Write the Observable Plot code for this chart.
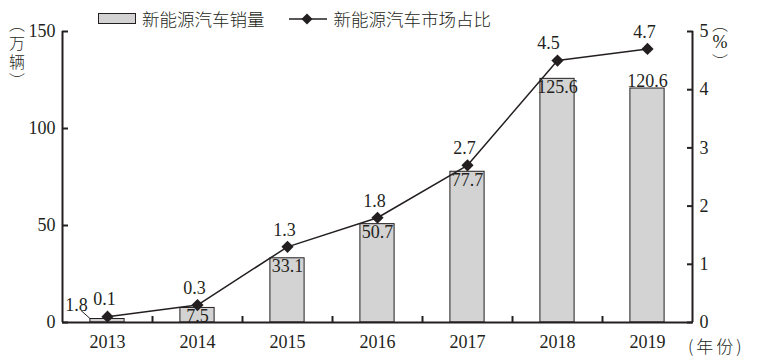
<!DOCTYPE html>
<html>
<head>
<meta charset="utf-8">
<script src="https://cdn.jsdelivr.net/npm/d3@7"></script>
<script src="https://cdn.jsdelivr.net/npm/@observablehq/plot@0.6"></script>
<style>
  html, body { margin: 0; padding: 0; background: #fff; }
  #wrap { position: relative; width: 757px; height: 357px; overflow: hidden; }
  #chart svg, #chart svg text { font-family: "Liberation Serif", "Times New Roman", serif !important; }
  .cjk { font-family: "Noto Sans CJK SC", sans-serif; font-weight: 300; color: #231f20; }
  #legend { position: absolute; left: 98px; top: 6px; display: flex; align-items: center; font-size: 17.5px; white-space: nowrap; }
  .vlab { position: absolute; width: 22px; text-align: center; font-size: 16px; line-height: 19px; }
  .vlab div { height: 19px; overflow: visible; }
  #ylab { left: 6px; top: 14px; }
  #y2lab { left: 709px; top: 14px; }
  #xlab { position: absolute; left: 688px; top: 333px; font-size: 17px; white-space: nowrap; letter-spacing: 3px; }
</style>
</head>
<body>
<div id="wrap">
  <div id="chart"></div>
  <div id="legend" class="cjk">
    <svg width="38" height="12" style="margin-right:6px"><rect x="0.5" y="0.5" width="37" height="10" fill="#d3d3d3" stroke="#231f20"/></svg>
    <span>新能源汽车销量</span>
    <svg width="40" height="14" style="margin-left:24px;margin-right:5px"><line x1="0" y1="7" x2="38" y2="7" stroke="#231f20" stroke-width="1.5"/><path d="M18,1.5L23.5,7L18,12.5L12.5,7Z" fill="#231f20"/></svg>
    <span>新能源汽车市场占比</span>
  </div>
  <div id="ylab" class="cjk vlab"><div>︵</div><div>万</div><div>辆</div><div>︶</div></div>
  <div id="y2lab" class="cjk vlab"><div>︵</div><div style="font-family:'Liberation Serif';font-size:18px">%</div><div>︶</div></div>
  <div id="xlab" class="cjk">(年份)</div>
</div>
<script>
const years = [2013, 2014, 2015, 2016, 2017, 2018, 2019];
const sales = [1.8, 7.5, 33.1, 50.7, 77.7, 125.6, 120.6];   // 万辆
const share = [0.1, 0.3, 1.3, 1.8, 2.7, 4.5, 4.7];          // %
const leftTicks = [0, 50, 100, 150];
const rightTicks = [0, 1, 2, 3, 4, 5];

const K = 30; // share (%) -> sales axis factor (5% == 150)
const data = years.map((year, i) => ({year, sales: sales[i], share: share[i]}));
const ink = "#231f20";
const halfBar = 0.19;
const font = "'Liberation Serif', serif";

const leader = (index, scales) => {
  const d = data[0];
  const x = scales.x(d.year) - 17, y = scales.y(d.sales);
  const line = document.createElementNS("http://www.w3.org/2000/svg", "line");
  line.setAttribute("x1", x - 9); line.setAttribute("y1", y - 8);
  line.setAttribute("x2", x); line.setAttribute("y2", y);
  line.setAttribute("stroke", ink); line.setAttribute("stroke-width", 1);
  return line;
};

const chart = Plot.plot({
  width: 757,
  height: 357,
  marginLeft: 62,
  marginRight: 65,
  marginTop: 31,
  marginBottom: 35,
  style: {fontFamily: font, fontSize: "18px", color: ink, background: "transparent", overflow: "visible"},
  x: {domain: [2012.5, 2019.5]},
  y: {domain: [0, 150]},
  marks: [
    Plot.rectY(data, {x1: d => d.year - halfBar, x2: d => d.year + halfBar, y: "sales", fill: "#d3d3d3", stroke: ink, strokeWidth: 1}),
    Plot.ruleY([0], {stroke: ink, strokeWidth: 2}),
    Plot.ruleX([years[0] - 0.5, years[years.length - 1] + 0.5], {y1: 0, y2: 150, stroke: ink, strokeWidth: 2}),
    Plot.axisY({anchor: "left", ticks: leftTicks, tickSize: -6, tickPadding: 13, label: null, strokeWidth: 2, fontFamily: font, fontSize: 18}),
    Plot.axisY({anchor: "right", ticks: rightTicks.map(v => v * K), tickFormat: v => v / K, tickSize: -6, tickPadding: 13, label: null, strokeWidth: 2, fontFamily: font, fontSize: 18}),
    Plot.axisX({anchor: "bottom", ticks: years, tickFormat: d => String(d), tickSize: 0, tickPadding: 13, label: null, fontFamily: font, fontSize: 18}),
    Plot.axisX({anchor: "bottom", ticks: years.slice(1).map(y => y - 0.5), tickFormat: () => "", tickSize: -6, label: null, strokeWidth: 2}),
    Plot.line(data, {x: "year", y: d => d.share * K, stroke: ink, strokeWidth: 1.5}),
    Plot.dot(data, {x: "year", y: d => d.share * K, symbol: "diamond2", r: 5.5, fill: ink}),
    // bar value labels
    Plot.text(data.filter(d => d.year > 2013 && d.year < 2019), {x: "year", y: "sales", text: d => d.sales.toFixed(1), lineAnchor: "top", dy: 1, fill: ink, fontFamily: font, fontSize: 18}),
    Plot.text(data.filter(d => d.year === 2019), {x: "year", y: "sales", text: d => d.sales.toFixed(1), lineAnchor: "bottom", dy: -2, fill: ink, fontFamily: font, fontSize: 18}),
    Plot.text(data.filter(d => d.year === 2013), {x: "year", y: "sales", text: d => d.sales.toFixed(1), dx: -31, dy: -14, fill: ink, fontFamily: font, fontSize: 18}),
    leader,
    // share labels
    Plot.text(data.filter(d => d.year !== 2018), {x: "year", y: d => d.share * K, text: d => d.share.toFixed(1), dx: -3, dy: -17, fill: ink, fontFamily: font, fontSize: 18}),
    Plot.text(data.filter(d => d.year === 2018), {x: "year", y: d => d.share * K, text: d => d.share.toFixed(1), dx: -9, dy: -17, fill: ink, fontFamily: font, fontSize: 18}),
  ]
});
document.getElementById("chart").appendChild(chart);
</script>
</body>
</html>
